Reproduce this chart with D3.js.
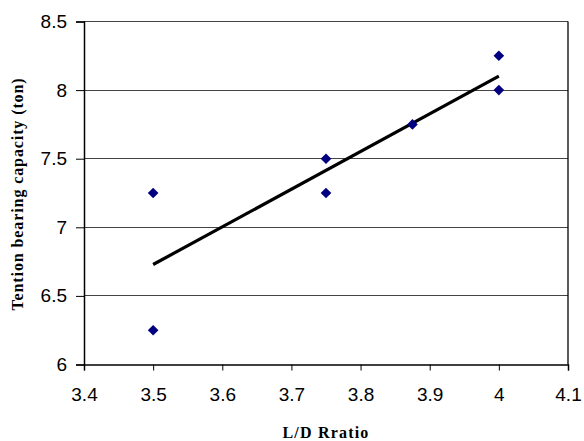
<!DOCTYPE html>
<html><head><meta charset="utf-8">
<script src="https://cdn.jsdelivr.net/npm/d3@7"></script>
<style>body{margin:0;background:#fff}</style>
</head><body>
<svg id="c" width="584" height="441"></svg>
<script>
const ldRatio = [3.5, 3.5, 3.75, 3.75, 3.875, 4.0, 4.0];
const capacity = [7.25, 6.25, 7.5, 7.25, 7.75, 8.25, 8.0];
const xTicks = [3.4, 3.5, 3.6, 3.7, 3.8, 3.9, 4.0, 4.1];
const yTicks = [6, 6.5, 7, 7.5, 8, 8.5];
const xTitle = "L/D Rratio";
const yTitle = "Tention bearing capacity (ton)";

const svg = d3.select("#c");
const L = 84, R = 568, T = 21.5, B = 364.5;
const x = d3.scaleLinear().domain([3.4, 4.1]).range([L, R]);
const y = d3.scaleLinear().domain([6, 8.5]).range([B, T]);

// gridlines
svg.append("g").selectAll("line").data(yTicks.filter(d => d > 6)).join("line")
  .attr("x1", L).attr("x2", R).attr("y1", d => y(d)).attr("y2", d => y(d))
  .attr("stroke", "#444").attr("stroke-width", 1).attr("shape-rendering", "crispEdges");
// plot border right
svg.append("line").attr("x1", R).attr("x2", R).attr("y1", T).attr("y2", B)
  .attr("stroke", "#000").attr("stroke-width", 1.3);

const fmt = d => String(+d.toFixed(2));
const xAxis = svg.append("g").attr("transform", `translate(0,${B})`)
  .call(d3.axisBottom(x).tickValues(xTicks).tickFormat(fmt).tickSizeOuter(0).tickSize(6).tickPadding(17));
const yAxis = svg.append("g").attr("transform", `translate(${L},0)`)
  .call(d3.axisLeft(y).tickValues(yTicks).tickFormat(fmt).tickSizeOuter(0).tickSize(8).tickPadding(9));
[xAxis, yAxis].forEach(a => {
  a.select(".domain").attr("stroke", "#000").attr("stroke-width", 1.5);
  a.selectAll(".tick line").attr("stroke", "#000");
  a.selectAll("text").attr("font-family", "Liberation Sans, Arial, sans-serif")
   .attr("font-size", 19).attr("fill", "#000");
});

// trendline (least squares from data)
const mx = d3.mean(ldRatio), my = d3.mean(capacity);
const slope = d3.sum(ldRatio, (v, i) => (v - mx) * (capacity[i] - my)) / d3.sum(ldRatio, v => (v - mx) ** 2);
const x0 = d3.min(ldRatio), x1 = d3.max(ldRatio);
svg.append("line")
  .attr("x1", x(x0)).attr("y1", y(my + slope * (x0 - mx)))
  .attr("x2", x(x1)).attr("y2", y(my + slope * (x1 - mx)))
  .attr("stroke", "#000").attr("stroke-width", 3.2);

// markers
const sym = d3.symbol().type(d3.symbolDiamond2).size(72);
svg.append("g").selectAll("path").data(ldRatio.map((v, i) => [v, capacity[i]])).join("path")
  .attr("d", sym).attr("transform", d => `translate(${x(d[0])},${y(d[1])})`)
  .attr("fill", "#000080");

svg.append("text").attr("x", 326).attr("y", 438).attr("text-anchor", "middle")
  .attr("font-family", "Liberation Serif, Times New Roman, serif").attr("font-weight", "bold")
  .attr("font-size", 16).attr("letter-spacing", 1.2).text(xTitle);
svg.append("text").attr("transform", `translate(23,194) rotate(-90)`).attr("text-anchor", "middle")
  .attr("font-family", "Liberation Serif, Times New Roman, serif").attr("font-weight", "bold")
  .attr("font-size", 16).attr("letter-spacing", 0.9).text(yTitle);
</script>
</body></html>
